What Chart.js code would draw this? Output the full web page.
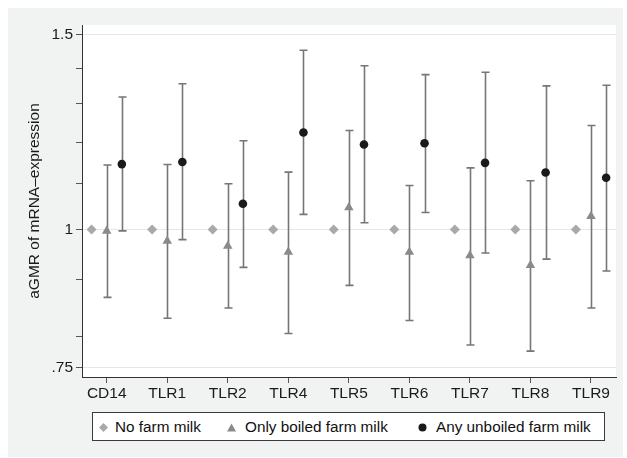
<!DOCTYPE html>
<html>
<head>
<meta charset="utf-8">
<script src="https://cdn.jsdelivr.net/npm/chart.js@4"></script>
<style>
  html, body { margin: 0; padding: 0; background: #ffffff; }
  #wrap { position: relative; width: 627px; height: 458px; }
  #c { position: absolute; left: 0; top: 0; }
  #legend {
    position: absolute; left: 92px; top: 412px; width: 513px; height: 29px;
    background: #ffffff; border: 1px solid #3a3a3a; box-sizing: border-box;
    font-family: 'Liberation Sans', Arial, sans-serif; font-size: 15.3px; color: #111;
  }
  #legend .mk { position: absolute; top: 10px; }
  #legend .tx { position: absolute; top: 5px; white-space: nowrap; }
</style>
</head>
<body>
<div id="wrap">
  <canvas id="c" width="627" height="458"></canvas>
  <div id="legend">
    <svg class="mk" style="left:6px" width="9" height="9"><polygon points="4.5,0 9,4.5 4.5,9 0,4.5" fill="#a9a9a9"/></svg>
    <span class="tx" style="left:22px">No farm milk</span>
    <svg class="mk" style="left:134px" width="9" height="9"><polygon points="4.5,0.5 9,8.5 0,8.5" fill="#8a8a8a"/></svg>
    <span class="tx" style="left:152px">Only boiled farm milk</span>
    <svg class="mk" style="left:325px" width="9" height="9"><circle cx="4.5" cy="4.5" r="4" fill="#1a1a1a"/></svg>
    <span class="tx" style="left:343px">Any unboiled farm milk</span>
  </div>
</div>
<script>
// ---- Data ----
const categories = ['CD14','TLR1','TLR2','TLR4','TLR5','TLR6','TLR7','TLR8','TLR9'];
const noFarmMilk = [1, 1, 1, 1, 1, 1, 1, 1, 1];
const boiled     = [0.997, 0.976, 0.966, 0.954, 1.047, 0.954, 0.947, 0.928, 1.028];
const boiledLo   = [0.868, 0.831, 0.849, 0.805, 0.890, 0.827, 0.786, 0.776, 0.849];
const boiledHi   = [1.144, 1.145, 1.100, 1.127, 1.229, 1.096, 1.137, 1.107, 1.242];
const unboiled   = [1.146, 1.151, 1.055, 1.224, 1.194, 1.197, 1.149, 1.126, 1.114];
const unboiledLo = [0.997, 0.979, 0.924, 1.032, 1.014, 1.036, 0.952, 0.940, 0.917];
const unboiledHi = [1.318, 1.355, 1.203, 1.453, 1.407, 1.381, 1.388, 1.349, 1.351];
const yTickValues = [0.75, 0.8, 0.9, 1, 1.1, 1.2, 1.3, 1.4, 1.5];
const yTickLabels = {0.75: '.75', 1: '1', 1.5: '1.5'};

const OFFSET = 0.25;
const FONT = "'Liberation Sans', Arial, sans-serif";

const background = {
  id: 'background',
  beforeDraw(chart) {
    const {ctx, chartArea: a} = chart;
    ctx.save();
    ctx.fillStyle = '#f1f2f2';
    ctx.fillRect(8, 8, 615, 449);
    ctx.fillStyle = '#ffffff';
    ctx.fillRect(a.left, a.top, a.right - a.left, a.bottom - a.top);
    ctx.restore();
  }
};

const errorBars = {
  id: 'errorBars',
  beforeDatasetsDraw(chart) {
    const {ctx, scales: {x, y}} = chart;
    ctx.save();
    ctx.strokeStyle = '#767676';
    ctx.lineWidth = 1.6;
    const sets = [[boiledLo, boiledHi, 0], [unboiledLo, unboiledHi, OFFSET]];
    sets.forEach(([lo, hi, off]) => {
      lo.forEach((l, i) => {
        const px = Math.round(x.getPixelForValue(i + off)) + 0.5;
        const y1 = y.getPixelForValue(l);
        const y2 = y.getPixelForValue(hi[i]);
        ctx.beginPath();
        ctx.moveTo(px, y1); ctx.lineTo(px, y2);
        ctx.moveTo(px - 4, y1); ctx.lineTo(px + 4, y1);
        ctx.moveTo(px - 4, y2); ctx.lineTo(px + 4, y2);
        ctx.stroke();
      });
    });
    ctx.restore();
  }
};

new Chart(document.getElementById('c'), {
  type: 'scatter',
  data: {
    datasets: [
      {
        label: 'No farm milk',
        data: noFarmMilk.map((v, i) => ({x: i - OFFSET, y: v})),
        pointStyle: 'rectRot', pointRadius: 5, pointHoverRadius: 5,
        backgroundColor: '#a9a9a9', borderColor: '#a9a9a9', borderWidth: 0
      },
      {
        label: 'Only boiled farm milk',
        data: boiled.map((v, i) => ({x: i, y: v})),
        pointStyle: 'triangle', pointRadius: 5.5, pointHoverRadius: 5.5,
        backgroundColor: '#8a8a8a', borderColor: '#8a8a8a', borderWidth: 0
      },
      {
        label: 'Any unboiled farm milk',
        data: unboiled.map((v, i) => ({x: i + OFFSET, y: v})),
        pointStyle: 'circle', pointRadius: 4.3, pointHoverRadius: 4.3,
        backgroundColor: '#1a1a1a', borderColor: '#1a1a1a', borderWidth: 0
      }
    ]
  },
  options: {
    responsive: false,
    animation: false,
    devicePixelRatio: 1,
    layout: {padding: {top: 25, right: 11, bottom: 0, left: 0}},
    plugins: {legend: {display: false}, tooltip: {enabled: false}},
    scales: {
      x: {
        type: 'linear',
        min: -0.408, max: 8.413,
        afterFit(scale) { scale.height = 81; },
        afterBuildTicks(scale) { scale.ticks = categories.map((_, i) => ({value: i})); },
        grid: {drawOnChartArea: false, drawTicks: true, tickLength: 6, tickColor: '#555', lineWidth: 1},
        border: {display: true, color: '#333', width: 1},
        ticks: {
          autoSkip: false, maxRotation: 0, padding: 1,
          color: '#1a1a1a', font: {family: FONT, size: 15.5},
          callback: (v) => categories[v] !== undefined ? categories[v] : ''
        }
      },
      y: {
        type: 'logarithmic',
        min: 0.7352, max: 1.5316,
        afterFit(scale) { scale.width = 82; },
        afterBuildTicks(scale) { scale.ticks = yTickValues.map(v => ({value: v})); },
        grid: {
          drawOnChartArea: true, drawTicks: true, tickLength: 6, lineWidth: 1,
          color: (ctx) => (ctx.tick && yTickLabels[ctx.tick.value] !== undefined) ? '#e6e6e6' : 'rgba(0,0,0,0)',
          tickColor: '#555'
        },
        border: {display: true, color: '#333', width: 1},
        ticks: {
          autoSkip: false, padding: 3,
          color: '#1a1a1a', font: {family: FONT, size: 15.5},
          callback: (v) => yTickLabels[v] !== undefined ? yTickLabels[v] : ''
        },
        title: {
          display: true, text: 'aGMR of mRNA\u2013expression',
          color: '#1a1a1a', font: {family: FONT, size: 15.5},
          padding: {top: 25, bottom: 0}
        }
      }
    }
  },
  plugins: [background, errorBars]
});
</script>
</body>
</html>
